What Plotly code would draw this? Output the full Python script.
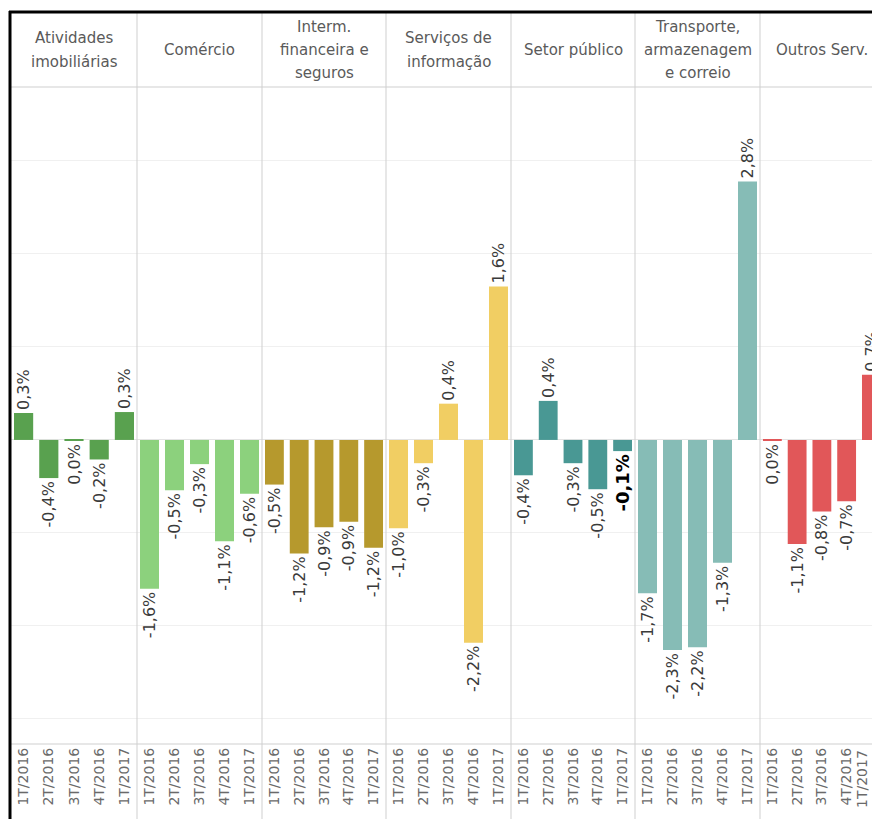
import plotly.graph_objects as go

# ---------------- data ----------------
categories = ["Atividades imobiliárias", "Comércio", "Interm. financeira e seguros",
              "Serviços de informação", "Setor público",
              "Transporte, armazenagem e correio", "Outros Serv."]
header_lines = [["Atividades", "imobiliárias"], ["Comércio"],
                ["Interm.", "financeira e", "seguros"], ["Serviços de", "informação"],
                ["Setor público"], ["Transporte,", "armazenagem", "e correio"],
                ["Outros Serv."]]
quarters = ["1T/2016", "2T/2016", "3T/2016", "4T/2016", "1T/2017"]

ativ_imob = [0.29, -0.41, -0.01, -0.21, 0.30]
comercio = [-1.60, -0.54, -0.26, -1.09, -0.58]
interm_fin = [-0.48, -1.22, -0.94, -0.88, -1.16]
serv_info = [-0.95, -0.25, 0.39, -2.18, 1.65]
setor_pub = [-0.38, 0.42, -0.25, -0.53, -0.12]
transporte = [-1.65, -2.26, -2.23, -1.32, 2.78]
outros = [-0.01, -1.12, -0.77, -0.66, 0.70]

ativ_imob_lbl = ["0,3%", "-0,4%", "0,0%", "-0,2%", "0,3%"]
comercio_lbl = ["-1,6%", "-0,5%", "-0,3%", "-1,1%", "-0,6%"]
interm_fin_lbl = ["-0,5%", "-1,2%", "-0,9%", "-0,9%", "-1,2%"]
serv_info_lbl = ["-1,0%", "-0,3%", "0,4%", "-2,2%", "1,6%"]
setor_pub_lbl = ["-0,4%", "0,4%", "-0,3%", "-0,5%", "<b>-0,1%</b>"]
transporte_lbl = ["-1,7%", "-2,3%", "-2,2%", "-1,3%", "2,8%"]
outros_lbl = ["0,0%", "-1,1%", "-0,8%", "-0,7%", "0,7%"]

series = [ativ_imob, comercio, interm_fin, serv_info, setor_pub, transporte, outros]
labels = [ativ_imob_lbl, comercio_lbl, interm_fin_lbl, serv_info_lbl, setor_pub_lbl,
          transporte_lbl, outros_lbl]
colors = ["#59A14F", "#8CD17D", "#B6992D", "#F1CE63", "#499894", "#86BCB6", "#E15759"]

# ---------------- layout geometry ----------------
W, H = 872, 819
ML, MR, MT, MB = 11, 0, 88, 75
PW = W - ML - MR
PH = H - MT - MB
bounds_px = [11, 137, 262, 386, 511, 635, 760, 884.6]

def xp(px):
    return (px - ML) / PW

def yp(py):
    return (H - MB - py) / PH

FONT = "DejaVu Sans"
fig = go.Figure()

for i, (vals, lbls, col) in enumerate(zip(series, labels, colors)):
    xa = "x" if i == 0 else f"x{i+1}"
    tf_colors = ["#3a3a3a"] * 5
    tf_sizes = [16] * 5
    if i == 4:
        tf_colors[4] = "#000000"
        tf_sizes[4] = 18
    fig.add_trace(go.Bar(
        x=quarters, y=vals, text=lbls, textposition="outside", textangle=-90,
        textfont=dict(family=FONT, size=tf_sizes, color=tf_colors),
        marker=dict(color=col, line=dict(width=0)), width=0.76,
        cliponaxis=(i == 6), constraintext="none",
        xaxis=xa, yaxis="y", showlegend=False, hoverinfo="skip"))

layout = dict(
    width=W, height=H, margin=dict(l=ML, r=MR, t=MT, b=MB),
    paper_bgcolor="white", plot_bgcolor="white",
    font=dict(family=FONT),
    yaxis=dict(range=[-3.27, 3.785], dtick=1, showticklabels=False, ticks="",
               showgrid=True, gridcolor="#f0f0f0", gridwidth=1,
               zeroline=True, zerolinecolor="#e4e4e4", zerolinewidth=1,
               anchor="x", domain=[0, 1]),
)
for i in range(7):
    key = "xaxis" if i == 0 else f"xaxis{i+1}"
    left = xp(bounds_px[i])
    right = min(1.0, xp(bounds_px[i + 1]))
    span_px = min(bounds_px[i + 1], W) - bounds_px[i]
    slot = (bounds_px[i + 1] - bounds_px[i]) / 5
    end = -0.5 + span_px / slot
    ax = dict(domain=[left, right], anchor="y", type="category",
              categoryorder="array", categoryarray=quarters,
              range=[-0.5, end], tickangle=-90, ticks="", showgrid=False,
              zeroline=False, showline=False,
              tickfont=dict(family=FONT, size=14, color="#6a6a6a"))
    if i == 6:
        ax["range"] = [-0.5, end + 0.03]
        ax["tickvals"] = quarters[:4]
    layout[key] = ax
fig.update_layout(**layout)

# ---------------- frame lines ----------------
shapes = []
gray = "#cfcfcf"
for b in bounds_px[1:-1]:
    shapes.append(dict(type="line", xref="paper", yref="paper",
                       x0=xp(b), x1=xp(b), y0=yp(H), y1=yp(12),
                       line=dict(color=gray, width=1)))
shapes.append(dict(type="line", xref="paper", yref="paper", x0=0, x1=1,
                   y0=yp(87), y1=yp(87), line=dict(color=gray, width=1)))
shapes.append(dict(type="line", xref="paper", yref="paper", x0=0, x1=1,
                   y0=yp(744), y1=yp(744), line=dict(color=gray, width=1)))
shapes.append(dict(type="line", xref="paper", yref="paper", x0=xp(9), x1=1,
                   y0=yp(12), y1=yp(12), line=dict(color="#000000", width=3)))
shapes.append(dict(type="line", xref="paper", yref="paper", x0=xp(10), x1=xp(10),
                   y0=yp(H), y1=yp(11), line=dict(color="#000000", width=3)))
fig.update_layout(shapes=shapes)

# ---------------- headers ----------------
anns = []
for i, lines in enumerate(header_lines):
    cx = xp((bounds_px[i] + bounds_px[i + 1]) / 2)
    n = len(lines)
    for j, t in enumerate(lines):
        cy = 50 + (j - (n - 1) / 2) * 23.5
        anns.append(dict(text=t, xref="paper", yref="paper", x=cx, y=yp(cy),
                         xanchor="center", yanchor="middle", showarrow=False,
                         font=dict(family=FONT, size=15, color="#5a5a5a")))
# last quarter label of the cropped right panel, kept inside the figure
anns.append(dict(text=quarters[4], xref="paper", yref="paper", x=1, y=yp(748),
                 xanchor="right", yanchor="top", textangle=-90, showarrow=False,
                 font=dict(family=FONT, size=14, color="#6a6a6a")))
fig.update_layout(annotations=anns)

fig.write_html("out.html")
